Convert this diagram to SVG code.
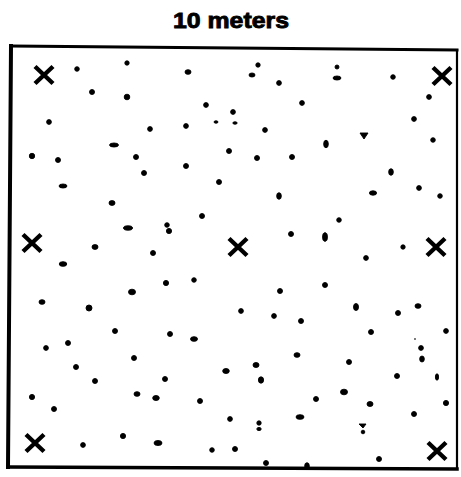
<svg xmlns="http://www.w3.org/2000/svg" xmlns:xlink="http://www.w3.org/1999/xlink" width="461" height="477" viewBox="0 0 461 477">
<style>
.title{font-family:"Liberation Sans",Arial,sans-serif;font-weight:bold;font-size:22.5px;fill:#000;stroke:#000;stroke-width:0.9}
.edge{fill:none;stroke:#000;stroke-linecap:square}
.d{fill:#000;stroke:#000;stroke-width:0.9}
.xm{fill:none;stroke:#000;stroke-width:4.4;stroke-linecap:butt}
</style>
<defs>
<path id="x" class="xm" d="M-9,-8.5 L9,8.5 M9,-8.5 L-9,8.5"/>
</defs>
<rect width="461" height="477" fill="#fff"/>
<text class="title" x="231" y="28" text-anchor="middle" textLength="116" lengthAdjust="spacingAndGlyphs">10 meters</text>
<g id="frame">
<line class="edge" x1="11" y1="46" x2="457" y2="50" stroke-width="3"/>
<line class="edge" x1="457" y1="50" x2="457" y2="468" stroke-width="2.2"/>
<line class="edge" x1="8" y1="467" x2="457" y2="469" stroke-width="3.5"/>
<line class="edge" x1="11" y1="46" x2="8" y2="467" stroke-width="4"/>
</g>
<g id="markers">
<use xlink:href="#x" x="44" y="75"/>
<use xlink:href="#x" x="442" y="76"/>
<use xlink:href="#x" x="32" y="243"/>
<use xlink:href="#x" x="238" y="247"/>
<use xlink:href="#x" x="436" y="247"/>
<use xlink:href="#x" x="35" y="443"/>
<use xlink:href="#x" x="437" y="451"/>
</g>
<g id="dots" class="d">
<circle cx="77" cy="69" r="2.3"/>
<circle cx="127" cy="63" r="2.2"/>
<ellipse cx="188" cy="72" rx="3" ry="2.3"/>
<circle cx="92" cy="92" r="2.5"/>
<circle cx="127" cy="97" r="2.8"/>
<circle cx="206" cy="105" r="2.4"/>
<circle cx="233" cy="112" r="2.4"/>
<circle cx="49" cy="122" r="2.4"/>
<circle cx="150" cy="129" r="2.4"/>
<circle cx="186" cy="126" r="2.4"/>
<ellipse cx="216" cy="122" rx="2" ry="1.2"/>
<ellipse cx="235" cy="123" rx="2.2" ry="1.2"/>
<ellipse cx="114" cy="145" rx="4.5" ry="2"/>
<circle cx="32" cy="156" r="2.7"/>
<circle cx="58" cy="160" r="2.5"/>
<circle cx="136" cy="157" r="2.5"/>
<circle cx="229" cy="151" r="2.5"/>
<circle cx="186" cy="166" r="2.5"/>
<circle cx="144" cy="173" r="2.5"/>
<circle cx="219" cy="182" r="2.5"/>
<ellipse cx="63" cy="186" rx="4" ry="2"/>
<ellipse cx="112" cy="203" rx="3" ry="2.4"/>
<circle cx="202" cy="216" r="2.5"/>
<ellipse cx="128" cy="228" rx="4.5" ry="2.2"/>
<circle cx="167" cy="225" r="2.3"/>
<circle cx="169" cy="231" r="2.6"/>
<ellipse cx="95" cy="247" rx="3" ry="2.4"/>
<circle cx="153" cy="253" r="2.5"/>
<circle cx="258" cy="65" r="2.2"/>
<ellipse cx="252" cy="75" rx="3" ry="2"/>
<circle cx="279" cy="83" r="2.4"/>
<circle cx="337" cy="67" r="2"/>
<ellipse cx="337" cy="78" rx="4" ry="2"/>
<circle cx="393" cy="77" r="2.3"/>
<circle cx="429" cy="97" r="2.4"/>
<circle cx="302" cy="103" r="2.4"/>
<circle cx="265" cy="130" r="2.4"/>
<circle cx="414" cy="119" r="2.4"/>
<path d="M360,133 L368,133 L364,139 Z"/>
<circle cx="433" cy="140" r="2.3"/>
<ellipse cx="326" cy="144" rx="2.3" ry="3.8"/>
<circle cx="257" cy="158" r="2.5"/>
<circle cx="292" cy="157" r="2.5"/>
<ellipse cx="391" cy="172" rx="2.3" ry="3.3"/>
<ellipse cx="279" cy="196" rx="2.3" ry="3.3"/>
<ellipse cx="373" cy="193" rx="3.6" ry="2.2"/>
<circle cx="419" cy="188" r="2.4"/>
<circle cx="440" cy="196" r="2.3"/>
<circle cx="339" cy="220" r="2.3"/>
<circle cx="291" cy="234" r="2.5"/>
<ellipse cx="325" cy="237" rx="2.4" ry="4.3"/>
<circle cx="403" cy="247" r="2.2"/>
<circle cx="366" cy="258" r="2.4"/>
<ellipse cx="63" cy="264" rx="3.8" ry="2.3"/>
<circle cx="166" cy="283" r="2.6"/>
<circle cx="194" cy="280" r="2.3"/>
<ellipse cx="132" cy="292" rx="3.5" ry="2.8"/>
<ellipse cx="42" cy="302" rx="3" ry="2.3"/>
<ellipse cx="89" cy="308" rx="3" ry="3"/>
<circle cx="241" cy="311" r="2.4"/>
<circle cx="115" cy="331" r="2.5"/>
<circle cx="170" cy="334" r="2.5"/>
<ellipse cx="194" cy="339" rx="3.5" ry="2.3"/>
<circle cx="68" cy="343" r="2.5"/>
<circle cx="46" cy="348" r="2.4"/>
<circle cx="134" cy="358" r="2.5"/>
<circle cx="76" cy="367" r="2.5"/>
<ellipse cx="226" cy="371" rx="3.3" ry="2.5"/>
<circle cx="95" cy="381" r="2.5"/>
<circle cx="165" cy="379" r="2.5"/>
<circle cx="32" cy="397" r="2.6"/>
<ellipse cx="137" cy="394" rx="3" ry="2.3"/>
<ellipse cx="156" cy="398" rx="3.3" ry="2.5"/>
<circle cx="200" cy="401" r="2.5"/>
<circle cx="54" cy="409" r="2.5"/>
<circle cx="230" cy="419" r="2.4"/>
<circle cx="123" cy="436" r="2.6"/>
<circle cx="83" cy="445" r="2.4"/>
<ellipse cx="158" cy="443" rx="4" ry="2.5"/>
<circle cx="212" cy="450" r="2.3"/>
<circle cx="235" cy="449" r="2.5"/>
<circle cx="280" cy="291" r="2.5"/>
<circle cx="325" cy="285" r="2.5"/>
<circle cx="274" cy="316" r="2.4"/>
<circle cx="301" cy="321" r="2.5"/>
<ellipse cx="356" cy="307" rx="2.5" ry="3.5"/>
<circle cx="398" cy="313" r="2.5"/>
<ellipse cx="418" cy="306" rx="3" ry="2.3"/>
<circle cx="371" cy="332" r="2.5"/>
<circle cx="446" cy="331" r="2.4"/>
<circle cx="421" cy="348" r="2.4"/>
<ellipse cx="422" cy="359" rx="2.3" ry="3"/>
<circle cx="415" cy="339" r="0.4"/>
<ellipse cx="297" cy="355" rx="3" ry="2.3"/>
<circle cx="349" cy="362" r="2.5"/>
<ellipse cx="256" cy="365" rx="3" ry="2.5"/>
<ellipse cx="261" cy="380" rx="2.6" ry="3.2"/>
<circle cx="397" cy="376" r="2.5"/>
<ellipse cx="437" cy="377" rx="1.6" ry="3.2"/>
<ellipse cx="344" cy="392" rx="3.5" ry="2.8"/>
<circle cx="316" cy="399" r="2.5"/>
<ellipse cx="370" cy="404" rx="3" ry="2.5"/>
<circle cx="446" cy="403" r="2.6"/>
<circle cx="414" cy="414" r="2.5"/>
<circle cx="259" cy="423" r="2.2"/>
<ellipse cx="259" cy="429" rx="2.2" ry="1.6"/>
<ellipse cx="300" cy="417" rx="4" ry="2.3"/>
<path d="M359,424 L366,424 L363,428 Z"/>
<circle cx="363" cy="432" r="1.8"/>
<circle cx="266" cy="463" r="2.5"/>
<ellipse cx="307" cy="466" rx="2.3" ry="3.3"/>
<circle cx="379" cy="459" r="2.5"/>
</g>
</svg>
